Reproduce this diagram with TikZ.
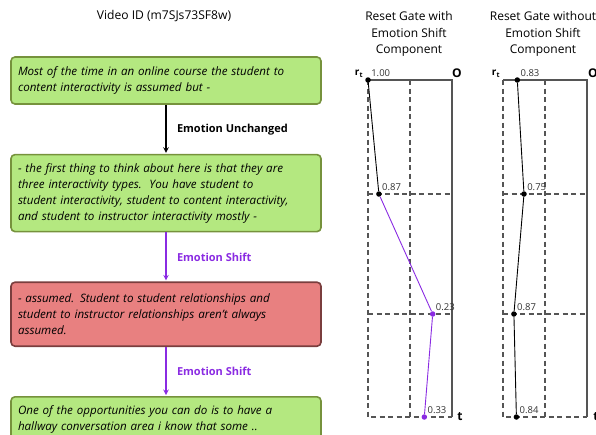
\documentclass[tikz,border=0pt]{standalone}
\usepackage{fontspec}
\setmainfont{Open Sans}
\usetikzlibrary{positioning}
\definecolor{boxgreen}{RGB}{180,232,128}
\definecolor{edgegreen}{RGB}{118,146,60}
\definecolor{boxred}{RGB}{232,128,128}
\definecolor{edgered}{RGB}{122,62,62}
\definecolor{shiftpurple}{RGB}{138,43,226}
\definecolor{gridgray}{RGB}{85,85,85}
\begin{document}
\begin{tikzpicture}[x=1pt,y=-1pt]
\tikzstyle{utter} = [rectangle, rounded corners=4pt, line width=1.6pt, text width=296pt, inner xsep=7pt, align=left, font=\fontsize{11.6}{16}\selectfont\itshape]
\tikzstyle{arrow} = [line width=1.4pt, ->, >= stealth, shorten >= 1pt]
\tikzstyle{tag} = [font=\fontsize{11}{12}\selectfont\bfseries]
\tikzstyle{grid} = [gridgray, line width=1.1pt, dash pattern=on 5pt off 3.5pt]
\tikzstyle{frame} = [gridgray, line width=1.1pt]
\tikzstyle{dot} = [circle, fill, inner sep=0pt, minimum size=5.5pt]
\tikzstyle{val} = [font=\fontsize{9.5}{12}\selectfont, text=black!80, inner sep=1pt]
\tikzstyle{axis} = [font=\fontsize{12}{14}\selectfont\bfseries]
\clip (0,0) rectangle (596,434);
% utterances
\node[font=\fontsize{12.1}{14}\selectfont](video) at (164,16){Video ID (m7SJs73SF8w)};
\node[utter, fill=boxgreen, draw=edgegreen, minimum height=47pt](utt1) at (166,80.5){Most of the time in an online course the student to\\content interactivity is assumed but -};
\node[utter, fill=boxgreen, draw=edgegreen, minimum height=77pt, below=49pt of utt1](utt2){- the first thing to think about here is that they are\\three interactivity types.\ \ You have student to\\student interactivity, student to content interactivity,\\and student to instructor interactivity mostly -};
\node[utter, fill=boxred, draw=edgered, minimum height=64pt, below=49pt of utt2](utt3){- assumed. Student to student relationships and\\student to instructor relationships aren't always\\assumed.};
\node[utter, fill=boxgreen, draw=edgegreen, minimum height=46pt, below=49pt of utt3](utt4){One of the opportunities you can do is to have a\\hallway conversation area i know that some ..};
\draw[arrow] (utt1)--(utt2) node[tag, midway, right=7pt]{Emotion Unchanged};
\draw[arrow, shiftpurple] (utt2)--(utt3) node[tag, midway, right=7pt]{Emotion Shift};
\draw[arrow, shiftpurple] (utt3)--(utt4) node[tag, midway, right=7pt]{Emotion Shift};
% reset gate with emotion shift
\node[font=\fontsize{12}{16.5}\selectfont, align=center](titlewith) at (409,34){Reset Gate with\\Emotion Shift\\Component};
\draw[grid] (368,80)--(368,417)--(452,417);
\draw[grid] (410,80)--(410,417);
\draw[grid] (368,194)--(452,194);
\draw[grid] (368,314)--(452,314);
\draw[frame] (368,80)--(452,80)--(452,417);
\node[axis, font=\fontsize{10}{12}\selectfont\bfseries](rwith) at (359,74){r\textsubscript{t}};
\node[axis](owith) at (457,73){O};
\node[axis](twith) at (460,417){t};
\node[dot, label={[val]above right:1.00}](with1) at (368,80){};
\node[dot, label={[val]above right:0.87}](with2) at (378.9,194){};
\node[dot, shiftpurple, label={[val]above right:0.23}](with3) at (432.7,314){};
\node[dot, shiftpurple, label={[val]above right:0.33}](with4) at (424.3,417){};
\draw[line width=0.9pt] (with1)--(with2);
\draw[line width=0.9pt, shiftpurple] (with2)--(with3);
\draw[line width=0.9pt, shiftpurple] (with3)--(with4);
% reset gate without emotion shift
\node[font=\fontsize{12}{16.5}\selectfont, align=center](titlewithout) at (543,34){Reset Gate without\\Emotion Shift\\Component};
\draw[grid] (503,80)--(503,417)--(587,417);
\draw[grid] (545,80)--(545,417);
\draw[grid] (503,194)--(587,194);
\draw[grid] (503,314)--(587,314);
\draw[frame] (503,80)--(587,80)--(587,417);
\node[axis, font=\fontsize{10}{12}\selectfont\bfseries](rwithout) at (496,74){r\textsubscript{t}};
\node[axis](owithout) at (593,73){O};
\node[axis](twithout) at (596,417){t};
\node[dot, label={[val]above right:0.83}](without1) at (517.3,80){};
\node[dot, label={[val]above right:0.75}](without2) at (524,194){};
\node[dot, label={[val]above right:0.87}](without3) at (513.9,314){};
\node[dot, label={[val]above right:0.84}](without4) at (516.4,417){};
\draw[line width=0.9pt] (without1)--(without2);
\draw[line width=0.9pt] (without2)--(without3);
\draw[line width=0.9pt] (without3)--(without4);
\end{tikzpicture}
\end{document}
